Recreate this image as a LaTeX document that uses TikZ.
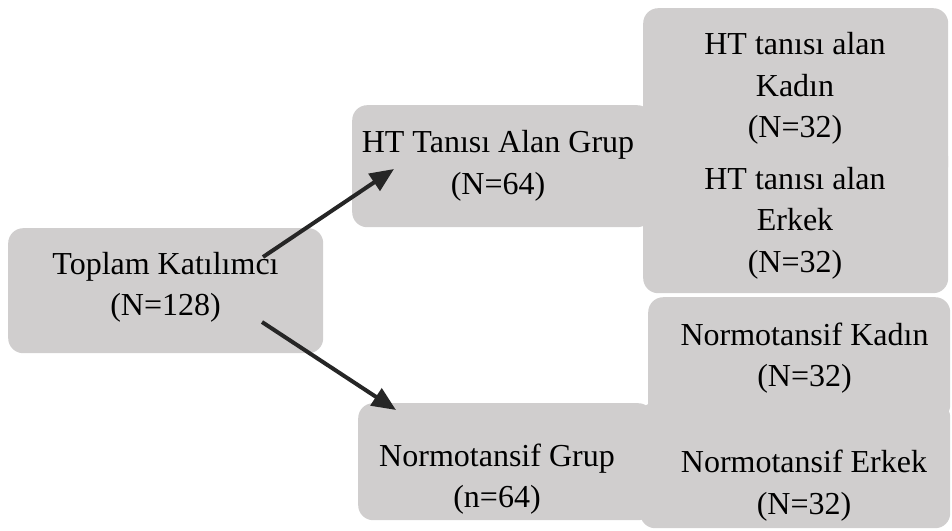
\documentclass[tikz,border=0pt]{standalone}
\usepackage{fontspec}
\setmainfont{Liberation Serif}
\usetikzlibrary{arrows.meta}
\definecolor{boxgray}{RGB}{208,206,206}
\definecolor{arrowgray}{RGB}{38,38,38}
\tikzset{
  panel/.style={fill=boxgray,rounded corners=15pt,anchor=north west,inner sep=0pt},
  boxtext/.style={align=center,inner sep=0pt,font=\fontsize{32}{41.5}\selectfont},
  link/.style={-{Triangle[length=24pt,width=20pt]},line width=4pt,arrowgray}
}

\begin{document}
\begin{tikzpicture}[x=1pt,y=-1pt] % Study groups
       \useasboundingbox (0,0) rectangle (952,530);
       \node[panel,minimum width=315pt,minimum height=125pt] (toplamBox) at (8,228) {};
       \node[panel,minimum width=300pt,minimum height=122pt] (htGrupBox) at (352,105) {};
       \node[panel,minimum width=295pt,minimum height=117pt] (nGrupBox) at (358,403) {};
       \node[panel,minimum width=305pt,minimum height=172pt] (htKadinBox) at (643,8) {};
       \node[panel,minimum width=305pt,minimum height=150pt] (htErkekBox) at (643,143) {};
       \node[panel,minimum width=302pt,minimum height=123pt] (nKadinBox) at (648,297) {};
       \node[panel,minimum width=310pt,minimum height=126pt] (nErkekBox) at (640,402) {};
        \node[boxtext] (toplam) at (165.5,287.5) {Toplam Katılımcı\\(N=128)};
        \node[boxtext] (htGrup) at (498,166) {HT Tanısı Alan Grup\\(N=64)};
        \node[boxtext] (nGrup) at (497,479) {Normotansif Grup\\(n=64)};
        \node[boxtext] (htKadin) at (795,88.5) {HT tanısı alan\\Kadın\\(N=32)};
        \node[boxtext] (htErkek) at (795,223) {HT tanısı alan\\Erkek\\(N=32)};
        \node[boxtext] (nKadin) at (804.5,358) {Normotansif Kadın\\(N=32)};
        \node[boxtext] (nErkek) at (804,485.5) {Normotansif Erkek\\(N=32)};
       \coordinate (upFrom) at (263,257);
       \coordinate (upTo) at (394,169);
       \coordinate (downFrom) at (262,322);
       \coordinate (downTo) at (396,410);
       \draw[link] (upFrom) -- (upTo);
       \draw[link] (downFrom) -- (downTo);
   \end{tikzpicture}
\end{document}
